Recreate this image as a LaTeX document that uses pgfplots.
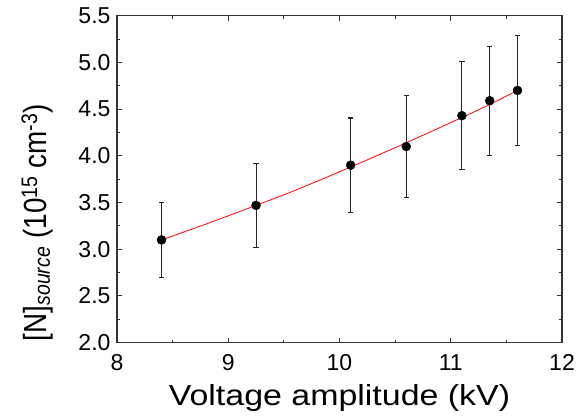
\documentclass[border=0pt]{standalone}
\usepackage{fontspec}
\setmainfont{Liberation Sans}
\newfontfamily\xlabfont[FakeStretch=1.17]{Liberation Sans}
\newfontfamily\ylabfont[FakeStretch=0.87]{Liberation Sans}
\usepackage{pgfplots}
\pgfplotsset{compat=1.18}
\begin{document}
\begin{tikzpicture}
\begin{axis}[
  scale only axis,
  width=445pt, height=327pt,
  xmin=8, xmax=12, ymin=2.0, ymax=5.5,
  xtick={8,9,10,11,12},
  ytick={2.0,2.5,3.0,3.5,4.0,4.5,5.0,5.5},
  minor x tick num=1,
  minor y tick num=1,
  tick align=inside,
  major tick length=5pt,
  minor tick length=3pt,
  axis line style={line width=1.3pt, black!80},
  every tick/.style={line width=1pt, black!80},
  yticklabel style={/pgf/number format/fixed, /pgf/number format/fixed zerofill, /pgf/number format/precision=1, xshift=-3pt},
  xticklabel style={yshift=-8pt},
  /pgf/number format/assume math mode=true,
  ticklabel style={font=\fontsize{23}{27}\selectfont},
  xlabel={Voltage amplitude (kV)},
  ylabel={[N]\textsubscript{\itshape source} (10\textsuperscript{15} cm\textsuperscript{-3})},
  xlabel style={font=\xlabfont\fontsize{29}{34}\selectfont, at={(axis description cs:0.5,0)}, anchor=north, yshift=-42pt, inner sep=0pt},
  ylabel style={font=\ylabfont\fontsize{32}{38}\selectfont, at={(axis description cs:-0.144,0.367)}, anchor=south, inner sep=0pt},
  clip=false,
]
\addplot[red, line width=0.8pt, smooth] coordinates {
  (8.4,3.10) (8.8,3.27) (9.25,3.47) (9.6,3.63) (10.1,3.88) (10.6,4.14) (11.1,4.41) (11.35,4.55) (11.6,4.70)
};
\addplot[only marks, mark=*, mark size=4.5pt, black,
  error bars/.cd, y dir=both, y explicit,
  error bar style={line width=1.1pt, black!85},
  error mark options={rotate=90, mark size=2.7pt, line width=1.1pt, black!85}]
  coordinates {
  (8.40,3.10) +- (0,0.405)
  (9.25,3.47) +- (0,0.45)
  (10.10,3.90) +- (0,0.505)
  (10.60,4.10) +- (0,0.55)
  (11.10,4.43) +- (0,0.575)
  (11.35,4.59) +- (0,0.585)
  (11.60,4.70) +- (0,0.585)
};
\end{axis}
\path ([xshift=-117pt,yshift=-76pt]current axis.south west) rectangle ([xshift=17pt,yshift=15.7pt]current axis.north east);
\end{tikzpicture}
\end{document}
